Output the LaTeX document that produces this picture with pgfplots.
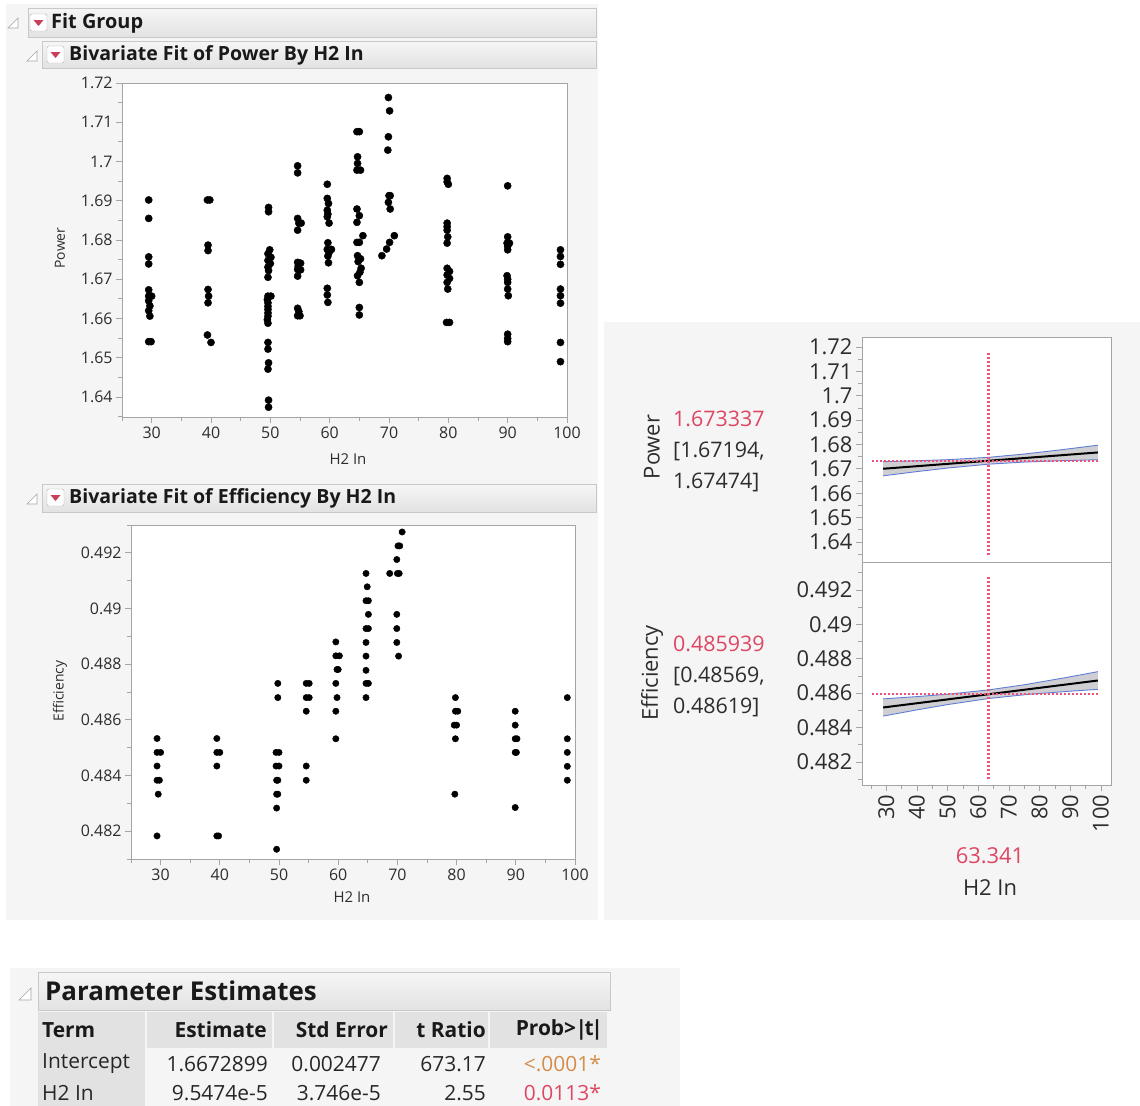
\documentclass[border=0pt]{standalone}
\usepackage{pgfplots}
\usepackage{pgfplotstable}
\pgfplotsset{compat=1.18}
\usepackage{fontspec}
\setmainfont{Open Sans}

\definecolor{panelbg}{RGB}{245,245,245}
\definecolor{framegray}{RGB}{165,165,165}
\definecolor{ticktext}{RGB}{45,45,45}
\definecolor{barborder}{RGB}{200,200,200}
\definecolor{bartop}{RGB}{246,246,246}
\definecolor{barbot}{RGB}{226,226,226}
\definecolor{jmpred}{RGB}{222,70,98}
\definecolor{crosspink}{RGB}{238,80,120}
\definecolor{jmporange}{RGB}{212,140,72}
\definecolor{bandblue}{RGB}{95,125,215}
\definecolor{bandgray}{RGB}{195,195,200}
\definecolor{cellgray}{RGB}{226,226,226}

\newcommand{\fs}[1]{\fontsize{#1}{#1}\selectfont}

% Power by H2 In
\pgfplotstableread{
x y
29.5 1.6902
29.5 1.6855
29.5 1.6757
29.5 1.6739
29.5 1.6673
29.5 1.6657
30.0 1.6657
29.5 1.6645
29.7 1.6632
29.5 1.6620
29.7 1.6606
29.5 1.6541
29.9 1.6541
39.4 1.6902
39.8 1.6902
39.5 1.6787
39.5 1.6773
39.5 1.6674
39.6 1.6657
39.5 1.6640
39.4 1.6558
40.0 1.6539
49.7 1.6883
49.7 1.6872
49.9 1.6775
49.6 1.6765
50.1 1.6756
49.6 1.6748
50.0 1.6740
49.6 1.6731
49.7 1.6722
49.6 1.6705
49.6 1.6657
50.1 1.6657
49.5 1.6648
49.6 1.6640
49.6 1.6631
49.6 1.6623
49.6 1.6614
49.6 1.6606
49.5 1.6597
49.6 1.6588
49.6 1.6539
49.6 1.6522
49.7 1.6487
49.6 1.6471
49.7 1.6392
49.7 1.6374
54.6 1.6989
54.6 1.6971
54.6 1.6855
54.8 1.6843
55.2 1.6843
54.6 1.6825
54.6 1.6743
55.1 1.6741
54.7 1.6733
54.6 1.6725
55.1 1.6724
54.6 1.6708
54.6 1.6626
54.8 1.6618
54.6 1.6607
55.0 1.6607
59.6 1.6942
59.6 1.6906
59.8 1.6893
59.6 1.6876
59.7 1.6866
59.6 1.6859
59.9 1.6843
59.7 1.6793
59.6 1.6776
60.3 1.6776
59.9 1.6768
59.7 1.6759
59.8 1.6742
59.6 1.6677
59.6 1.6660
59.7 1.6641
64.6 1.7076
65.0 1.7076
64.7 1.7012
64.7 1.6995
64.6 1.6978
65.2 1.6978
64.6 1.6879
65.0 1.6862
64.6 1.6845
65.6 1.6811
64.6 1.6794
65.0 1.6794
64.7 1.6760
65.2 1.6752
64.8 1.6745
65.3 1.6728
65.1 1.6718
64.7 1.6709
65.0 1.6692
65.0 1.6628
65.0 1.6609
69.9 1.7163
70.1 1.7129
69.9 1.7063
69.8 1.7029
70.0 1.6913
70.2 1.6913
69.9 1.6896
70.2 1.6879
70.9 1.6811
70.1 1.6794
69.6 1.6777
68.8 1.6760
79.8 1.6957
79.8 1.6948
80.0 1.6942
79.8 1.6843
79.8 1.6834
79.8 1.6825
79.9 1.6808
79.8 1.6792
79.8 1.6728
80.2 1.6720
79.8 1.6711
80.2 1.6702
79.8 1.6692
79.9 1.6675
79.7 1.6590
80.2 1.6590
90.0 1.6938
90.0 1.6808
89.9 1.6792
90.3 1.6792
90.0 1.6784
90.0 1.6775
89.9 1.6709
90.0 1.6700
90.0 1.6692
90.0 1.6675
90.1 1.6658
90.0 1.6560
90.0 1.6549
90.0 1.6541
98.9 1.6775
98.9 1.6758
98.9 1.6738
98.9 1.6675
98.9 1.6658
98.9 1.6639
98.9 1.6539
98.9 1.6490
}\powerdata

% Efficiency by H2 In
\pgfplotstableread{
x y
29.4 0.48533
29.4 0.48483
30.0 0.48483
29.4 0.48434
29.4 0.48383
29.8 0.48383
29.6 0.48333
29.4 0.48183
39.5 0.48533
39.5 0.48483
40.0 0.48483
39.5 0.48434
39.5 0.48183
39.8 0.48183
49.8 0.48731
49.8 0.48680
49.5 0.48483
50.0 0.48483
49.5 0.48434
50.0 0.48434
49.6 0.48383
49.8 0.48383
49.6 0.48333
49.8 0.48333
49.6 0.48283
49.6 0.48135
54.6 0.48731
55.1 0.48731
54.6 0.48680
55.1 0.48680
54.6 0.48631
54.6 0.48434
54.6 0.48383
59.6 0.48880
59.6 0.48830
60.2 0.48830
59.8 0.48781
60.0 0.48781
59.6 0.48731
59.8 0.48680
59.6 0.48631
59.6 0.48532
64.7 0.49126
64.9 0.49078
64.7 0.49028
65.1 0.49028
65.1 0.48979
64.7 0.48928
65.1 0.48928
64.7 0.48878
64.7 0.48829
64.7 0.48778
64.7 0.48731
65.1 0.48731
64.7 0.48680
70.8 0.49275
70.1 0.49225
70.4 0.49225
69.9 0.49176
68.7 0.49126
70.0 0.49126
70.3 0.49126
69.9 0.48979
69.9 0.48928
69.9 0.48878
70.2 0.48829
79.8 0.48680
79.8 0.48631
80.2 0.48631
79.6 0.48581
80.0 0.48581
79.8 0.48532
79.7 0.48333
89.9 0.48631
89.9 0.48581
89.9 0.48532
90.2 0.48532
89.9 0.48483
90.1 0.48483
89.9 0.48285
98.7 0.48680
98.7 0.48532
98.7 0.48483
98.7 0.48433
98.7 0.48383
}\effdata

\pgfplotsset{
  jmpaxis/.style={
    scale only axis, anchor=north west,
    axis background/.style={fill=white},
    axis line style={draw=framegray, line width=0.8bp},
    tick style={draw=framegray, line width=0.8bp},
    tick align=outside, tick pos=left,
    major tick length=6bp, minor tick length=4bp,
    tick label style={text=ticktext},
    /pgf/number format/assume math mode=true,
    scaled ticks=false,
    yticklabel style={/pgf/number format/fixed, /pgf/number format/precision=3},
  },
  dots/.style={only marks, mark=*, mark size=#1,
    mark options={draw=black, fill=black}},
  redcross/.style={draw=crosspink, solid, line width=2.4bp,
    dash pattern=on 2bp off 2bp},
}

\begin{document}
\begin{tikzpicture}

% page and panel backgrounds
\begin{scope}[x=1bp, y=-1bp]
  \fill[white] (0,0) rectangle (1140,1106);
  \fill[panelbg] (6,4) rectangle (598,920);
  \fill[panelbg] (604,322) rectangle (1140,920);
  \fill[panelbg] (10,968) rectangle (680,1106);
\end{scope}

% ---- Power by H2 In ----
\begin{axis}[jmpaxis, at={(122bp,-83bp)}, width=445bp, height=334bp,
  xmin=25, xmax=100, ymin=1.6349, ymax=1.72,
  xtick={30,40,50,60,70,80,90,100},
  minor xtick={25,35,45,55,65,75,85,95},
  ytick={1.64,1.65,1.66,1.67,1.68,1.69,1.7,1.71,1.72},
  minor ytick={1.635,1.645,1.655,1.665,1.675,1.685,1.695,1.705,1.715},
  tick label style={font=\fs{16}},
]
\addplot[dots=3.6bp] table {\powerdata};
\end{axis}

% ---- Efficiency by H2 In ----
\begin{axis}[jmpaxis, at={(131bp,-525bp)}, width=444bp, height=334bp,
  xmin=25, xmax=100, ymin=0.481, ymax=0.493,
  xtick={30,40,50,60,70,80,90,100},
  minor xtick={25,35,45,55,65,75,85,95},
  ytick={0.482,0.484,0.486,0.488,0.49,0.492},
  minor ytick={0.481,0.483,0.485,0.487,0.489,0.491,0.493},
  tick label style={font=\fs{16}},
]
\addplot[dots=3.2bp] table {\effdata};
\end{axis}

% ---- Prediction profiler: Power ----
\begin{axis}[jmpaxis, at={(862bp,-337bp)}, width=249bp, height=225bp,
  xmin=22.1, xmax=103.3, ymin=1.6318, ymax=1.7241,
  xtick=\empty,
  ytick={1.64,1.65,1.66,1.67,1.68,1.69,1.7,1.71,1.72},
  minor ytick={1.635,1.645,1.655,1.665,1.675,1.685,1.695,1.705,1.715},
  tick label style={font=\fs{22}},
]
\addplot[fill=bandgray, draw=none, opacity=0.8] coordinates {
  (29,1.672954) (40,1.673329) (50,1.673776) (63.341,1.67474) (75,1.676094) (88,1.677988) (99,1.679723)
  (99,1.673761) (88,1.673395) (75,1.672807) (63.341,1.67194) (50,1.670352) (40,1.668889) (29,1.667163)
} -- cycle;
\addplot[bandblue, line width=0.9bp] coordinates {
  (29,1.672954) (40,1.673329) (50,1.673776) (63.341,1.67474) (75,1.676094) (88,1.677988) (99,1.679723)};
\addplot[bandblue, line width=0.9bp] coordinates {
  (29,1.667163) (40,1.668889) (50,1.670352) (63.341,1.67194) (75,1.672807) (88,1.673395) (99,1.673761)};
\addplot[black, line width=2bp] coordinates {(29,1.670059) (63.341,1.673337) (99,1.676742)};
\addplot[redcross] coordinates {(25.3,1.673337) (99,1.673337)};
\addplot[redcross] coordinates {(63.341,1.6346) (63.341,1.7179)};
\end{axis}

% ---- Prediction profiler: Efficiency ----
\begin{axis}[jmpaxis, at={(862bp,-562bp)}, width=249bp, height=223bp,
  xmin=22.1, xmax=103.3, ymin=0.48066, ymax=0.49363,
  xtick={30,40,50,60,70,80,90,100},
  minor xtick={25,35,45,55,65,75,85,95},
  ytick={0.482,0.484,0.486,0.488,0.49,0.492},
  minor ytick={0.481,0.483,0.485,0.487,0.489,0.491,0.493},
  tick label style={font=\fs{22}},
  xticklabel style={rotate=90, anchor=east},
]
\addplot[fill=bandgray, draw=none, opacity=0.8] coordinates {
  (29,0.485670) (40,0.485802) (50,0.485941) (63.341,0.48619) (75,0.486490) (88,0.486890) (99,0.487252)
  (99,0.486224) (88,0.486092) (75,0.485910) (63.341,0.48569) (50,0.485339) (40,0.485030) (29,0.484670)
} -- cycle;
\addplot[bandblue, line width=0.9bp] coordinates {
  (29,0.485670) (40,0.485802) (50,0.485941) (63.341,0.48619) (75,0.486490) (88,0.486890) (99,0.487252)};
\addplot[bandblue, line width=0.9bp] coordinates {
  (29,0.484670) (40,0.485030) (50,0.485339) (63.341,0.48569) (75,0.485910) (88,0.486092) (99,0.486224)};
\addplot[black, line width=2bp] coordinates {(29,0.485170) (63.341,0.485939) (99,0.486738)};
\addplot[redcross] coordinates {(25.3,0.485939) (99,0.485939)};
\addplot[redcross] coordinates {(63.341,0.4810) (63.341,0.49284)};
\end{axis}

% ---- report headers, labels and the estimates table ----
\begin{scope}[x=1bp, y=-1bp, every node/.style={inner sep=0pt}]
  % outline headers
  \shade[top color=bartop, bottom color=barbot, draw=barborder] (28,8) rectangle (596,37);
  \shade[top color=bartop, bottom color=barbot, draw=barborder] (42,41) rectangle (596,68);
  \shade[top color=bartop, bottom color=barbot, draw=barborder] (42,484) rectangle (596,512);
  \foreach \tx/\ty in {8/28, 27/61, 27/504} {
    \draw[gray!70, fill=white, line width=0.6bp] (\tx,\ty) -- (\tx+10,\ty) -- (\tx+10,\ty-10) -- cycle;
  }
  \foreach \ix/\iy in {30/14, 47/46, 47/489} {
    \draw[gray!60, fill=white, rounded corners=1.5bp] (\ix,\iy) rectangle (\ix+17,\iy+17);
    \fill[jmpred!90!black] (\ix+3.5,\iy+6) -- (\ix+13.5,\iy+6) -- (\ix+8.5,\iy+12) -- cycle;
  }
  \node[anchor=west, font=\bfseries\fs{20}, text=black!90] at (51,23) {Fit Group};
  \node[anchor=west, font=\bfseries\fs{19.6}, text=black!90] at (69,55) {Bivariate Fit of Power By H2 In};
  \node[anchor=west, font=\bfseries\fs{19.6}, text=black!90] at (69,498) {Bivariate Fit of Efficiency By H2 In};

  % scatter axis titles
  \node[rotate=90, font=\fs{14}, text=ticktext] at (60,248) {Power};
  \node[font=\fs{15}, text=ticktext] at (348,459) {H2 In};
  \node[rotate=90, font=\fs{14}, text=ticktext] at (60,691) {Efficiency};
  \node[font=\fs{15}, text=ticktext] at (352,897) {H2 In};

  % profiler readouts
  \node[rotate=90, font=\fs{22}, text=ticktext] at (652,447) {Power};
  \node[anchor=west, font=\fs{21.5}, text=jmpred] at (673,419) {1.673337};
  \node[anchor=west, font=\fs{21.5}, text=ticktext] at (673,451) {[1.67194,};
  \node[anchor=west, font=\fs{21.5}, text=ticktext] at (673,482) {1.67474]};
  \node[rotate=90, font=\fs{22}, text=ticktext] at (652,673) {Efficiency};
  \node[anchor=west, font=\fs{21.5}, text=jmpred] at (673,644) {0.485939};
  \node[anchor=west, font=\fs{21.5}, text=ticktext] at (673,676) {[0.48569,};
  \node[anchor=west, font=\fs{21.5}, text=ticktext] at (673,707) {0.48619]};
  \node[font=\fs{22}, text=jmpred] at (990,856) {63.341};
  \node[font=\fs{22}, text=ticktext] at (990,888) {H2 In};

  % Parameter Estimates
  \draw[gray!70, fill=white, line width=0.6bp] (19,1000) -- (31,1000) -- (31,988) -- cycle;
  \shade[top color=bartop, bottom color=barbot, draw=barborder] (38,972) rectangle (610,1010);
  \node[anchor=west, font=\bfseries\fs{26}, text=black!90] at (45,991) {Parameter Estimates};
  \foreach \a/\b in {38/145, 147/272, 274/393, 395/488, 490/607} {
    \fill[cellgray] (\a,1012) rectangle (\b,1048);
  }
  \fill[cellgray] (38,1048) rectangle (145,1106);
  \begin{scope}[font=\bfseries\fs{21}, text=black!90]
    \node[anchor=west] at (42,1030) {Term};
    \node[anchor=east] at (267,1030) {Estimate};
    \node[anchor=east] at (388,1030) {Std Error};
    \node[anchor=east] at (486,1030) {t Ratio};
    \node[anchor=east] at (603,1030) {Prob>\kern-0.5pt|\kern-2.5pt t\kern-2.5pt|};
  \end{scope}
  \begin{scope}[font=\fs{21}, text=black!85]
    \node[anchor=west] at (42,1064) {Intercept};
    \node[anchor=east] at (268,1064) {1.6672899};
    \node[anchor=east] at (381,1064) {0.002477};
    \node[anchor=east] at (486,1064) {673.17};
    \node[anchor=east, text=jmporange] at (601,1064) {<.0001*};
    \node[anchor=west] at (42,1093) {H2 In};
    \node[anchor=east] at (268,1093) {9.5474e-5};
    \node[anchor=east] at (381,1093) {3.746e-5};
    \node[anchor=east] at (486,1093) {2.55};
    \node[anchor=east, text=jmpred] at (601,1093) {0.0113*};
  \end{scope}
\end{scope}

\end{tikzpicture}
\end{document}
